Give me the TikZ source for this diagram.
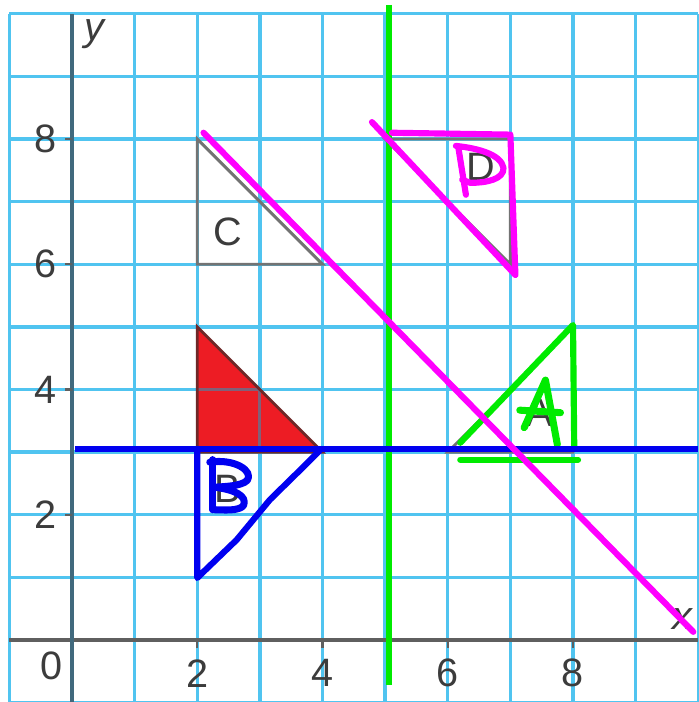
\documentclass[tikz,border=0pt]{standalone}
\usepackage{fontspec}
\setmainfont{Liberation Sans}
\definecolor{gridc}{RGB}{80,196,240}
\definecolor{axc}{RGB}{95,95,95}
\definecolor{yaxc}{RGB}{65,105,125}
\definecolor{txtc}{RGB}{60,60,60}
\definecolor{trigray}{RGB}{115,115,115}
\definecolor{redf}{RGB}{237,28,36}
\definecolor{mag}{RGB}{255,0,255}
\definecolor{grn}{RGB}{0,235,0}
\definecolor{blu}{RGB}{0,0,240}
\definecolor{mauve}{RGB}{130,95,120}
\tikzset{
  gridline/.style={gridc, line width=1.5pt},
  axisline/.style={axc, line width=1.5pt},
  tri/.style={trigray, line width=1.3pt, line join=miter},
  lbl/.style={text=txtc, font=\fontsize{18}{20}\selectfont, inner sep=0pt},
  pen/.style={line width=2.8pt, line cap=round, line join=round},
}
\begin{document}
\begin{tikzpicture}
\useasboundingbox (-1.15,-0.99) rectangle (10.0,10.22);
\fill[white] (-1.15,-0.99) rectangle (10.0,10.22);
% grid
\foreach \i in {-1,...,10} {
  \draw[gridline] (\i,-1) -- (\i,10);
  \draw[gridline] (-1,\i) -- (10,\i);
}
% red triangle
\fill[redf] (2,5) -- (2,3) -- (4,3) -- cycle;
\draw[mauve, line width=1.3pt] (3,3) -- (3,4) (2,4) -- (3,4);
\draw[tri, draw={rgb,255:red,110;green,40;blue,40}] (2,5) -- (2,3) -- (4,3) -- cycle;
% axes
\draw[axisline] (-1,0) -- (10,0);
\draw[yaxc, line width=1.6pt] (0,-1) -- (0,10);
\foreach \v in {2,4,6,8} {
  \draw[axisline, line width=1pt] (0,\v) -- (-0.12,\v);
  \draw[axisline, line width=1pt] (\v,0) -- (\v,-0.12);
  \node[lbl] (ylab\v) at (-0.43,\v) {\v};
  \node[lbl] (xlab\v) at (\v,-0.53) {\v};
}
\node[lbl] (zero) at (-0.32,-0.42) {0};
\node[lbl, font=\fontsize{18}{20}\selectfont\itshape] (ylab) at (0.36,9.68) {y};
\node[lbl, font=\fontsize{18}{20}\selectfont\itshape] (xlab) at (9.74,0.33) {x};
% gray triangles
\draw[tri] (2,8) -- (2,6) -- (4,6) -- cycle;
\node[lbl] (C) at (2.49,6.52) {C};
\draw[tri] (5,8) -- (7,8) -- (7,6) -- cycle;
\node[lbl] (D) at (6.52,7.55) {D};
\draw[tri] (6,3) -- (8,3) -- (8,5) -- cycle;
\node[lbl] (A) at (7.47,3.62) {A};
\node[lbl] (B) at (2.49,2.42) {B};
% green vertical line x=5
\draw[grn, line width=3pt] (5.06,10.14) -- (5.06,-0.72);
% A markings green
\draw[pen, grn] (6.2,3.15) -- (8.0,5.03) -- (8.02,3.05);
\draw[pen, grn] (6.2,2.88) -- (8.08,2.88);
\draw[pen, grn, line width=3.2pt] (7.22,3.39) -- (7.56,4.15) -- (7.75,3.12);
\draw[pen, grn, line width=3.2pt] (7.15,3.67) -- (7.80,3.63);
% blue horizontal line y=3
\draw[blu, line width=3pt] (0.05,3.05) -- (10.0,3.05);
% B markings blue
\draw[pen, blu] (2.0,3.02) -- (2.0,0.99) -- (2.08,1.07) -- (2.63,1.6) -- (3.16,2.24) -- (3.69,2.76) -- (3.95,3.02);
\draw[pen, blu, line width=3.2pt] (2.25,2.88) -- (2.25,2.08);
\draw[pen, blu, line width=3.2pt] (2.20,2.84) .. controls (2.6,2.9) and (2.9,2.7) .. (2.8,2.55) .. controls (2.7,2.45) and (2.4,2.45) .. (2.28,2.44)
  .. controls (2.6,2.4) and (2.8,2.3) .. (2.74,2.15) .. controls (2.67,2.05) and (2.4,2.08) .. (2.28,2.08);
% magenta lines
\draw[mag, line width=2.8pt, line cap=round] (2.1,8.1) -- (9.92,0.13);
\draw[pen, mag] (4.79,8.27) -- (7.08,5.83) -- (7.0,8.07) -- (5.11,8.10);
\draw[pen, mag, line width=2.8pt] (6.17,7.86) -- (6.29,7.11);
\draw[pen, mag, line width=2.8pt] (6.13,7.89) .. controls (6.5,7.85) and (6.85,7.75) .. (6.89,7.54) .. controls (6.9,7.35) and (6.6,7.3) .. (6.36,7.30) -- (6.23,7.35);
\end{tikzpicture}
\end{document}
